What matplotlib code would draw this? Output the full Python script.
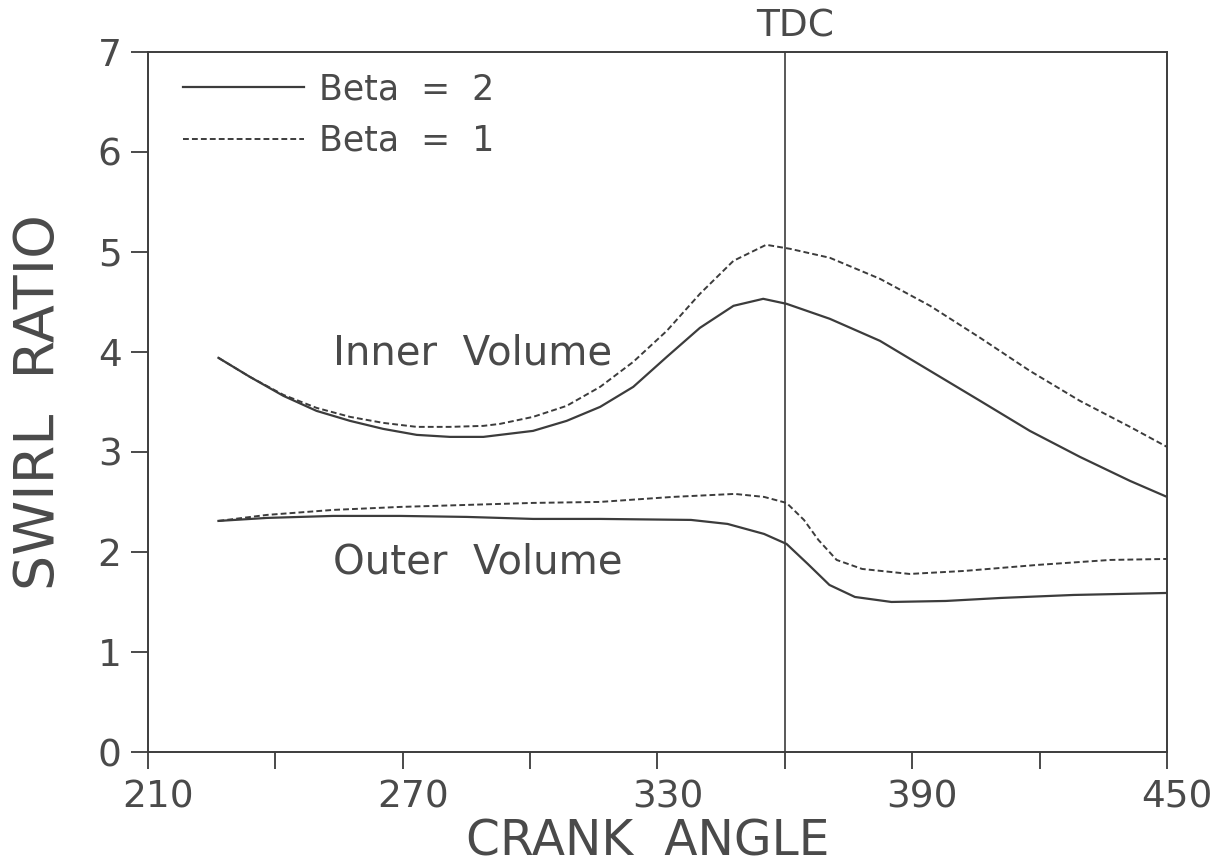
import matplotlib.pyplot as plt
from matplotlib.ticker import FixedLocator, FuncFormatter
import matplotlib.transforms as mtrans

# --- данные ---
inner_b2_x = [226.6, 234.0, 241.9, 249.7, 257.6, 265.4, 273.3, 281.1, 289.0, 292.9, 300.7,
              308.6, 316.5, 324.3, 332.2, 340.0, 347.9, 354.9, 360.4, 370.6, 382.4,
              394.2, 406.0, 417.7, 429.5, 441.3, 450.0]
inner_b2_y = [3.94, 3.75, 3.56, 3.41, 3.31, 3.23, 3.17, 3.15, 3.15, 3.17, 3.21,
              3.31, 3.45, 3.65, 3.95, 4.24, 4.46, 4.53, 4.48, 4.33, 4.11,
              3.81, 3.51, 3.21, 2.95, 2.71, 2.55]

inner_b1_x = [226.6, 234.0, 241.9, 249.7, 257.6, 265.4, 273.3, 281.1, 289.0, 292.9, 300.7,
              308.6, 316.5, 324.3, 332.2, 340.0, 347.9, 355.6, 361.2, 370.6, 382.4,
              394.2, 406.0, 417.7, 429.5, 441.3, 450.0]
inner_b1_y = [3.94, 3.75, 3.57, 3.44, 3.35, 3.29, 3.25, 3.25, 3.26, 3.28, 3.35,
              3.46, 3.65, 3.90, 4.21, 4.58, 4.91, 5.07, 5.03, 4.94, 4.73,
              4.46, 4.14, 3.81, 3.51, 3.25, 3.05]

outer_b2_x = [226.6, 238.0, 253.6, 269.4, 285.1, 300.7, 316.5, 337.9, 346.5, 355.1, 360.4,
              365.4, 370.5, 376.5, 385.1, 397.9, 410.8, 428.0, 450.0]
outer_b2_y = [2.31, 2.34, 2.36, 2.36, 2.35, 2.33, 2.33, 2.32, 2.28, 2.18, 2.08,
              1.88, 1.67, 1.55, 1.50, 1.51, 1.54, 1.57, 1.59]

outer_b1_x = [226.6, 238.0, 253.6, 269.4, 285.1, 300.7, 316.5, 333.6, 348.2, 355.1, 360.4,
              364.5, 367.9, 372.2, 378.2, 389.4, 402.2, 419.4, 436.6, 450.0]
outer_b1_y = [2.31, 2.37, 2.42, 2.45, 2.47, 2.49, 2.50, 2.55, 2.58, 2.55, 2.49,
              2.32, 2.12, 1.92, 1.83, 1.78, 1.81, 1.87, 1.92, 1.93]

x_ticks = [210, 240, 270, 300, 330, 360, 390, 420, 450]
x_labels = {210: '210', 270: '270', 330: '330', 390: '390', 450: '450'}
y_ticks = [0, 1, 2, 3, 4, 5, 6, 7]
tdc = 360

ink = '#3c3c3c'
txt = '#4a4a4a'

plt.rcParams['font.family'] = ['DejaVu Sans']

fig = plt.figure(figsize=(12.31, 8.66), dpi=100)
ax = fig.add_axes([0.1202, 0.1316, 0.948 - 0.1202, 0.9403 - 0.1316])

ax.plot(inner_b2_x, inner_b2_y, color=ink, lw=1.6, label='Beta  =  2')
ax.plot(inner_b1_x, inner_b1_y, color=ink, lw=1.4, dashes=(3, 1.6), label='Beta  =  1')
ax.plot(outer_b2_x, outer_b2_y, color=ink, lw=1.6)
ax.plot(outer_b1_x, outer_b1_y, color=ink, lw=1.4, dashes=(3, 1.6))

# смещение текста вправо, как у исходного шрифта
shift = mtrans.ScaledTranslation(0.1, 0, fig.dpi_scale_trans)

ax.axvline(tdc, color=ink, lw=1.2)
ax.text(tdc, 7.15, 'TDC', ha='center', va='baseline', fontsize=27, color=txt,
        transform=ax.transData + shift)

ax.text(253.6, 3.98, 'Inner  Volume', fontsize=29, color=txt, va='center')
ax.text(253.6, 1.89, 'Outer  Volume', fontsize=29, color=txt, va='center')

ax.set_xlim(210, 450)
ax.set_ylim(0, 7)
ax.xaxis.set_major_locator(FixedLocator(x_ticks))
ax.xaxis.set_major_formatter(FuncFormatter(lambda v, p: x_labels.get(int(round(v)), '')))
ax.set_yticks(y_ticks)

ax.tick_params(axis='both', direction='out', length=12, width=1.3, colors=ink,
               labelcolor=txt, labelsize=27)
ax.tick_params(axis='x', pad=8)
ax.tick_params(axis='y', pad=7)
for lab in ax.get_xticklabels():
    lab.set_transform(lab.get_transform() + shift)

for s in ax.spines.values():
    s.set_color(ink)
    s.set_linewidth(1.4)

ax.set_xlabel('CRANK  ANGLE', fontsize=35, color=txt, labelpad=1)
ax.xaxis.label.set_transform(ax.xaxis.label.get_transform()
                             + mtrans.ScaledTranslation(-0.1, 0, fig.dpi_scale_trans))
ax.set_ylabel('SWIRL  RATIO', fontsize=40, color=txt, labelpad=23)

leg = ax.legend(loc='upper left', bbox_to_anchor=(0.0206, 0.99), frameon=False,
                fontsize=25, handlelength=3.5, handletextpad=0.42, labelspacing=0.5,
                borderaxespad=0, labelcolor=txt)

fig.savefig('out.png', dpi=100)
